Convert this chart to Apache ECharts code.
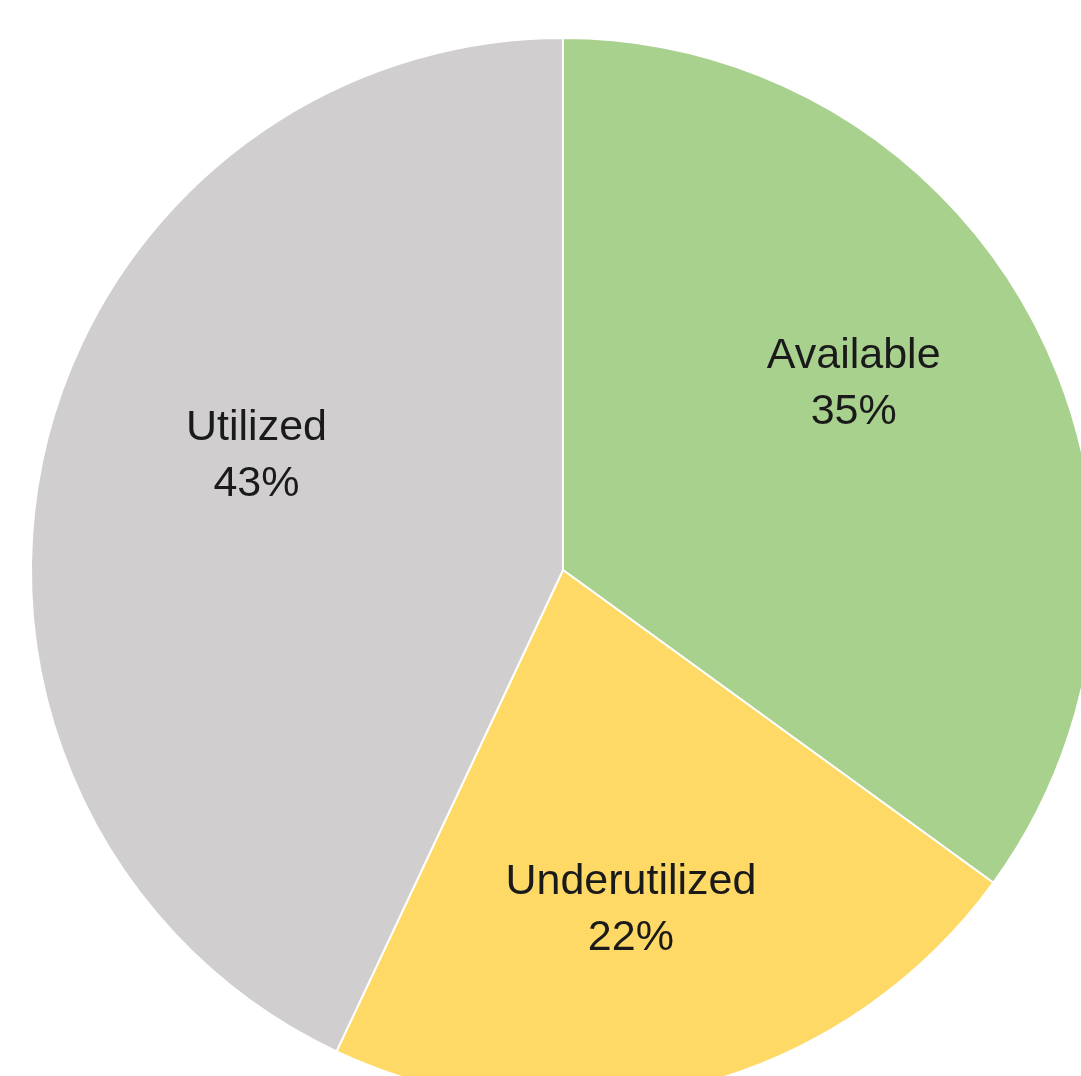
<!DOCTYPE html>
<html>
<head>
<meta charset="utf-8">
<script src="https://cdn.jsdelivr.net/npm/echarts@6/dist/echarts.min.js"></script>
<style>
html,body{margin:0;padding:0;background:#fff;}
#c{width:1081px;height:1076px;}
</style>
</head>
<body>
<div id="c"></div>
<script>
const categories = ['Available', 'Underutilized', 'Utilized'];
const values = [35, 22, 43];
const colors = ['#A9D18E', '#FFD966', '#D0CECE'];
const labelShift = [[51, -64], [1, 80], [-44, -55]];

const chart = echarts.init(document.getElementById('c'), null, {renderer: 'canvas'});
chart.setOption({
  animation: false,
  backgroundColor: '#ffffff',
  series: [{
    type: 'pie',
    center: [563, 570],
    radius: 532,
    startAngle: 90,
    clockwise: true,
    data: categories.map((n, i) => ({name: n, value: values[i], itemStyle: {color: colors[i]}})),
    itemStyle: {borderColor: '#ffffff', borderWidth: 2},
    label: {
      show: true,
      position: 'inside',
      formatter: p => p.name + '\n' + p.value + '%',
      fontFamily: 'Liberation Sans, Arial, sans-serif',
      fontSize: 43,
      lineHeight: 56,
      color: '#1a1a1a',
      align: 'center'
    },
    labelLayout: p => ({dx: labelShift[p.dataIndex][0], dy: labelShift[p.dataIndex][1]}),
    labelLine: {show: false},
    emphasis: {disabled: true}
  }]
});
</script>
</body>
</html>
